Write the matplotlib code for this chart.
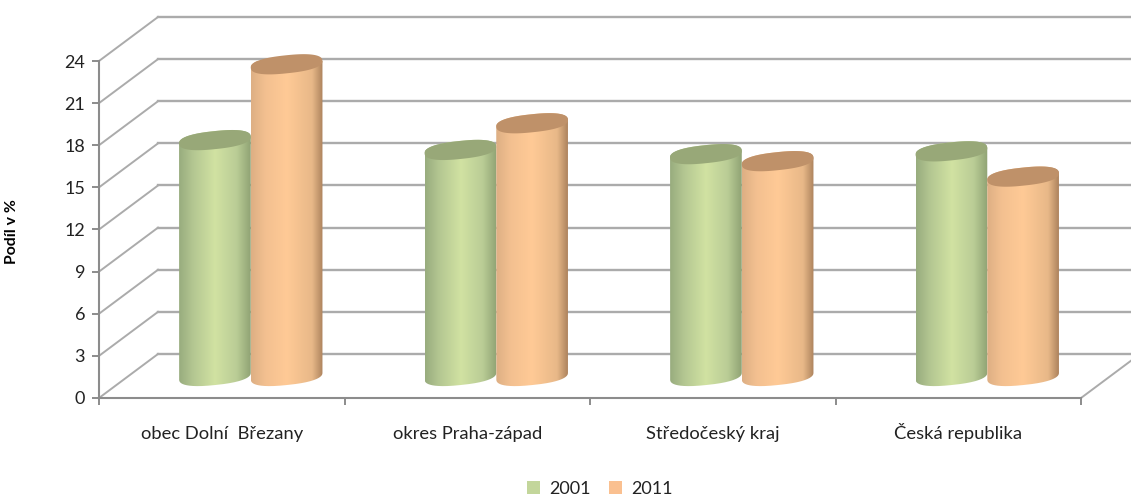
import numpy as np
import matplotlib
matplotlib.use("Agg")
import matplotlib.pyplot as plt
from matplotlib.colors import LinearSegmentedColormap
from matplotlib.patches import Patch, PathPatch
from matplotlib.path import Path
from matplotlib.transforms import Affine2D, IdentityTransform

categories = ["obec Dolní  Březany", "okres Praha-západ", "Středočeský kraj", "Česká republika"]
years = ["2001", "2011"]
values_2001 = [16.8, 16.1, 15.8, 16.0]
values_2011 = [22.2, 18.0, 15.3, 14.2]
y_ticks = [0, 3, 6, 9, 12, 15, 18, 21, 24]

W, H = 1131, 498
plt.rcParams["font.family"] = ["Lato", "DejaVu Sans"]
fig = plt.figure(figsize=(W / 100, H / 100), dpi=100, facecolor="white")
ax = fig.add_axes([99 / W, 1 - 398 / H, (1081 - 99) / W, (398 - 61) / H])
ax.set_xlim(0, len(categories))
ax.set_ylim(0, 24)
ax.set_autoscale_on(False)
ax.patch.set_visible(False)

DX, DY = 59, 44
GRID = "#ABABAB"
AXC = "#8C8C8C"
back = ax.transData + Affine2D().translate(DX, DY)

for v in y_ticks:
    ax.plot([0, 4], [v, v], transform=back, color=GRID, lw=1.7, clip_on=False, zorder=1)
    x0, y0 = ax.transData.transform((0, v))
    ax.plot([x0, x0 + DX], [y0, y0 + DY], transform=IdentityTransform(), color=GRID, lw=1.4, clip_on=False, zorder=1)
x1, y1 = ax.transData.transform((4, 0))
ax.plot([x1, x1 + DX], [y1, y1 + DY], transform=IdentityTransform(), color=GRID, lw=1.4, clip_on=False, zorder=1)

for s in ("top", "right"):
    ax.spines[s].set_visible(False)
for s in ("left", "bottom"):
    ax.spines[s].set_color(AXC)
    ax.spines[s].set_linewidth(1.5)

ax.set_yticks(y_ticks)
ax.set_xticks(range(len(categories) + 1))
ax.set_xticklabels([])
ax.set_xticks([i + 0.5 for i in range(len(categories))], categories, minor=True)
ax.tick_params(axis="both", which="major", color=AXC, width=1.4, length=5)
ax.tick_params(axis="y", labelsize=13, labelcolor="#222222", pad=5)
ax.tick_params(axis="x", which="minor", length=0, labelsize=13.2, labelcolor="#222222", pad=29.5)
for lab in ax.get_xticklabels(minor=True):
    lab.set_verticalalignment("baseline")
ax.set_ylabel("Podíl v %", fontsize=11.4, fontweight="bold", color="black")
ax.yaxis.set_label_coords((19 - 99) / 982, (398 - 232) / 337)

A, B, TILT = 36.0, 9.0, np.radians(6)
POW = 0.82


def ellipse(cx, cy, th):
    c, s = np.cos(th), np.sin(th)
    u = np.sign(c) * np.abs(c) ** POW
    v = np.sign(s) * np.abs(s) ** POW
    return np.column_stack([
        cx + A * u * np.cos(TILT) - B * v * np.sin(TILT),
        cy + A * u * np.sin(TILT) + B * v * np.cos(TILT),
    ])


def cylinder(xc, value, colors, cap, z):
    shift = ax.transData + Affine2D().translate(DX / 2, DY / 2)
    cx, base = shift.transform((xc, 0))
    _, top = shift.transform((xc, value))
    th = np.linspace(0, 2 * np.pi, 361)[:-1]
    unit = ellipse(0, 0, th)
    r, l = unit[:, 0].argmax(), unit[:, 0].argmin()
    # counter-clockwise from right extreme to left extreme = upper arc
    up_idx = np.arange(r, l + 1) if r < l else np.r_[r:360, 0:l + 1]
    lo_idx = np.arange(l, r + 1) if l < r else np.r_[l:360, 0:r + 1]
    upper = unit[up_idx] + [cx, top]
    lower = unit[lo_idx] + [cx, base]
    outline = np.vstack([upper, lower, upper[:1]])
    body = PathPatch(Path(outline), transform=IdentityTransform(), fc="none", ec="none", zorder=z)
    ax.add_patch(body)
    cmap = LinearSegmentedColormap.from_list("c", colors)
    grad = np.linspace(0, 1, 256)[None, :]
    im = ax.imshow(grad, cmap=cmap, extent=(outline[:, 0].min(), outline[:, 0].max(), base - 20, top + 20),
                   transform=IdentityTransform(), aspect="auto", interpolation="bilinear", zorder=z)
    im.set_clip_path(body)
    ax.add_patch(PathPatch(Path(unit + [cx, top]), transform=IdentityTransform(), fc=cap, ec="none",
                           clip_on=False, zorder=z + 0.1))


GREEN = [(0, "#98AC7E"), (0.2, "#B4C792"), (0.5, "#D1E2A2"), (0.8, "#BACD96"), (1, "#8FA274")]
ORANGE = [(0, "#DDAF84"), (0.2, "#F3C090"), (0.5, "#FFCA96"), (0.85, "#E8B888"), (1, "#AD835D")]
for i, (a, b) in enumerate(zip(values_2001, values_2011)):
    cylinder(i + 0.5 - 0.148, a, GREEN, "#98A878", 3 + i * 2)
    cylinder(i + 0.5 + 0.144, b, ORANGE, "#BF9169", 4 + i * 2)

handles = [Patch(fc="#C3D69B", ec="none"), Patch(fc="#FAC090", ec="none")]
fig.legend(handles, years, loc="center", bbox_to_anchor=(600 / W, 1 - 489 / H), ncol=2, frameon=False,
           fontsize=13, handlelength=0.72, handleheight=0.72, handletextpad=0.5, columnspacing=1.0,
           labelcolor="#222222", borderpad=0)

fig.savefig("out.png", dpi=100)
